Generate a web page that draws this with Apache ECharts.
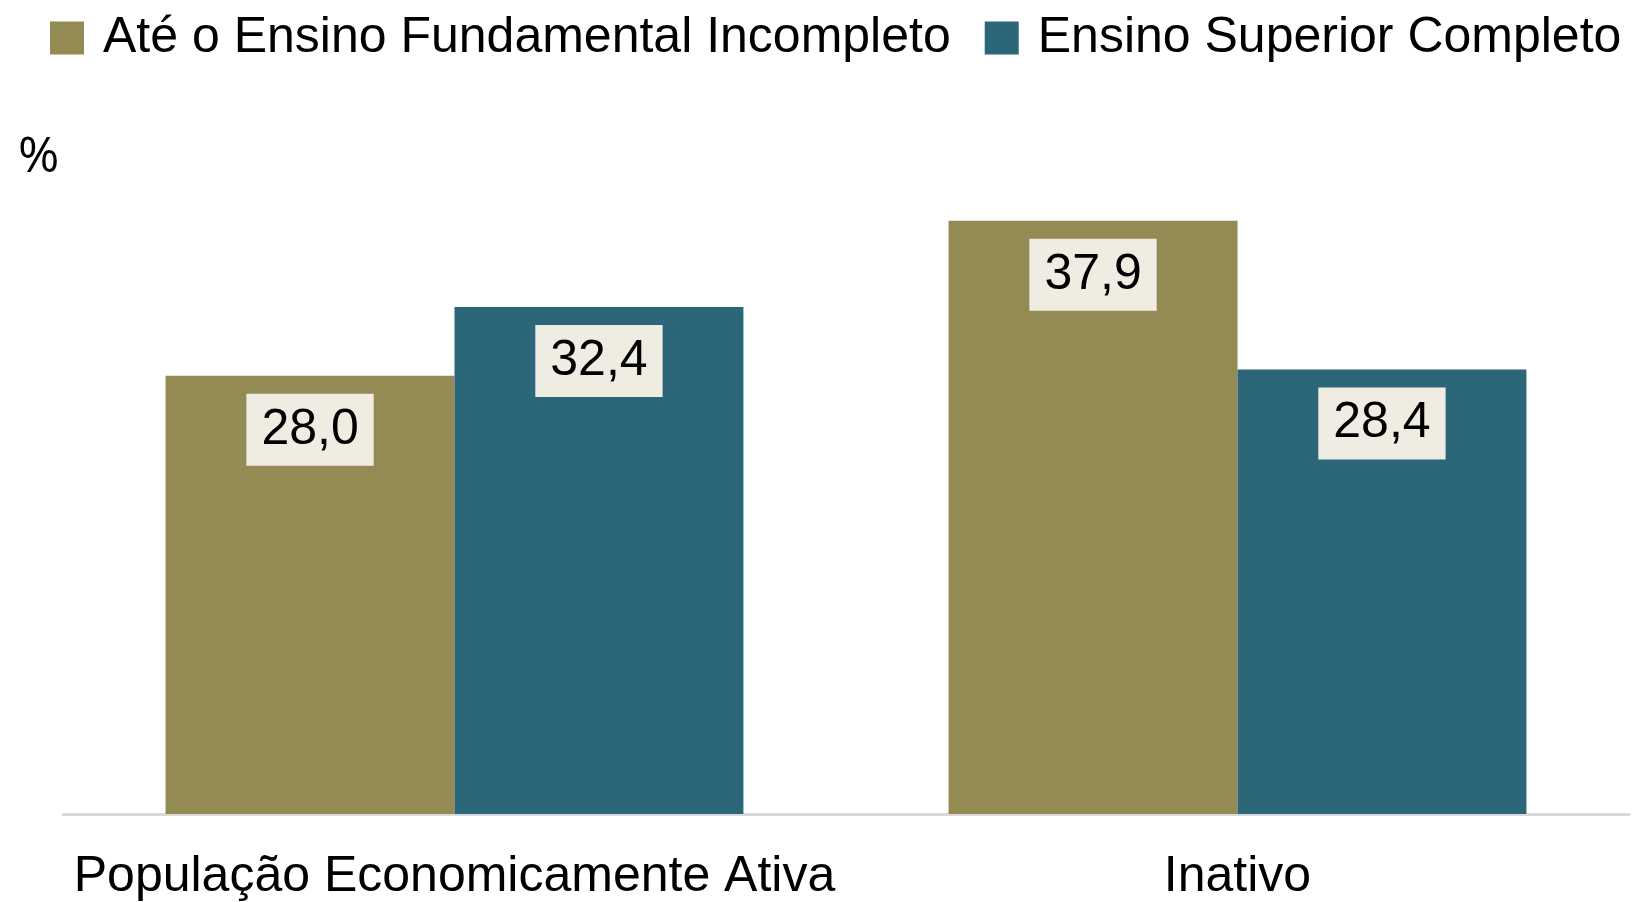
<!DOCTYPE html>
<html>
<head>
<meta charset="utf-8">
<script src="https://cdn.jsdelivr.net/npm/echarts@6/dist/echarts.min.js"></script>
<style>
html,body{margin:0;padding:0;background:#fff;}
#chart{width:1639px;height:902px;}
</style>
</head>
<body>
<div id="chart"></div>
<script>
var categories = ['População Economicamente Ativa', 'Inativo'];
var seriesNames = ['Até o Ensino Fundamental Incompleto', 'Ensino Superior Completo'];
var fundamental = [28.0, 37.9];
var superior = [32.4, 28.4];
var colors = ['#948A54', '#2B6779'];

var chart = echarts.init(document.getElementById('chart'));
var fontFam = '"Liberation Sans", Arial, sans-serif';
function fmt(p){ return p.value.toFixed(1).replace('.', ','); }
var labelCfg = {
  show: true,
  position: 'insideTop',
  distance: 18,
  formatter: fmt,
  color: '#000',
  fontFamily: fontFam,
  fontSize: 50,
  lineHeight: 50,
  backgroundColor: '#EFECE2',
  padding: [11, 15]
};
chart.setOption({
  animation: false,
  backgroundColor: '#fff',
  legend: {
    left: 50, top: 13, padding: 0,
    width: 1589,
    itemWidth: 34, itemHeight: 33,
    itemGap: 34,
    icon: 'rect',
    textStyle: { fontFamily: fontFam, fontSize: 50, color: '#000', padding: [0, 0, 0, 14] },
    data: seriesNames
  },
  graphic: [{
    type: 'text', left: 18, top: 133,
    style: { text: '%', fontFamily: '"Open Sans", sans-serif', fontSize: 50, fill: '#000' }
  }],
  grid: { left: 63, right: 10, top: 188, bottom: 85 },
  xAxis: {
    type: 'category',
    data: categories,
    axisLine: { lineStyle: { color: '#D9D9D9', width: 3 } },
    axisTick: { show: false },
    axisLabel: { interval: 0, fontFamily: fontFam, fontSize: 50, color: '#000', margin: 38 }
  },
  yAxis: { type: 'value', min: 0, max: 40, show: false, splitLine: { show: false } },
  series: [
    { name: seriesNames[0], type: 'bar', data: fundamental, barWidth: '36.9%', barGap: '0%',
      itemStyle: { color: colors[0] }, label: labelCfg },
    { name: seriesNames[1], type: 'bar', data: superior, barWidth: '36.9%', barGap: '0%',
      itemStyle: { color: colors[1] }, label: labelCfg }
  ]
});
</script>
</body>
</html>
